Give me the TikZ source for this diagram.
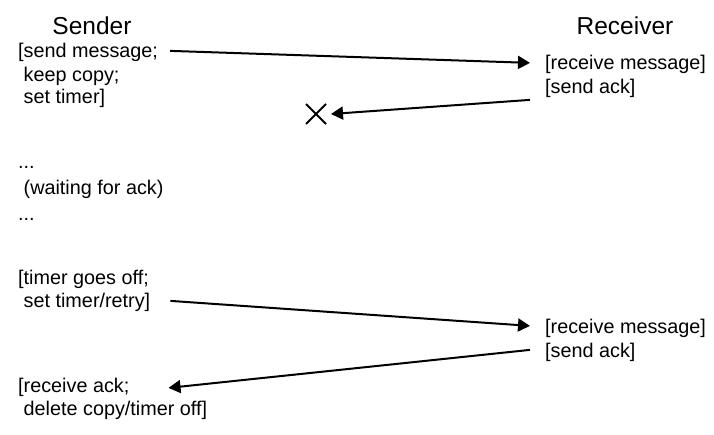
\documentclass[tikz,border=0pt]{standalone}
\usepackage{fontspec}
\setmainfont{Liberation Sans}
\usetikzlibrary{arrows.meta,calc}
\begin{document}
\begin{tikzpicture}[x=1pt,y=-1pt,
  txt/.style={inner sep=0pt,anchor=base west,font=\fontsize{19.8pt}{23pt}\selectfont},
  head/.style={inner sep=0pt,anchor=base,font=\fontsize{24.5pt}{28pt}\selectfont},
  msg/.style={line width=2pt,-{Triangle[length=12pt,width=13pt]}},
  cross/.style={line width=2pt}]
\useasboundingbox[fill=white] (0,0) rectangle (714,435);
% headers
\node[head] (sender) at (92,35) {Sender};
\node[head] (receiver) at (625,35) {Receiver};
% block 1 (sender)
\node[txt] (s1a) at (18,58) {[send message;};
\node[txt] (s1b) at (18,82) {\hphantom{[}keep copy;};
\node[txt] (s1c) at (18,104) {\hphantom{[}set timer]};
% receiver 1
\node[txt] (r1a) at (545,70) {[receive message]};
\node[txt] (r1b) at (545,94) {[send ack]};
% lost ack
\coordinate (x) at (316,114);
\draw[cross] ($(x)+(-10,-10)$) -- ($(x)+(10,10)$);
\draw[cross] ($(x)+(-10,10)$) -- ($(x)+(10,-10)$);
\coordinate (xr) at (331,114);
% waiting
\node[txt] (w1) at (18,169) {...};
\node[txt] (w2) at (18,195) {\hphantom{[}(waiting for ack)};
\node[txt] (w3) at (18,221) {...};
% block 2
\node[txt] (s2a) at (18,284) {[timer goes off;};
\node[txt] (s2b) at (18,307) {\hphantom{[}set timer/retry]};
% receiver 2
\node[txt] (r2a) at (545,334) {[receive message]};
\node[txt] (r2b) at (545,357) {[send ack]};
% block 3
\node[txt] (s3a) at (18,392) {[receive ack;};
\node[txt] (s3b) at (18,415) {\hphantom{[}delete copy/timer off]};
% arrows
\draw[msg] ([xshift=12pt,yshift=2pt]s1a.east) -- ([xshift=-15pt,yshift=2pt]r1a.west);
\draw[msg] ([xshift=-15pt,yshift=-11pt]r1b.west) -- (xr);
\draw[msg] ([xshift=20pt,yshift=1pt]s2b.east) -- ([xshift=-15pt,yshift=3pt]r2a.west);
\draw[msg] ([xshift=-15pt,yshift=2pt]r2b.west) -- ([xshift=39pt,yshift=-1pt]s3a.east);
\end{tikzpicture}
\end{document}
